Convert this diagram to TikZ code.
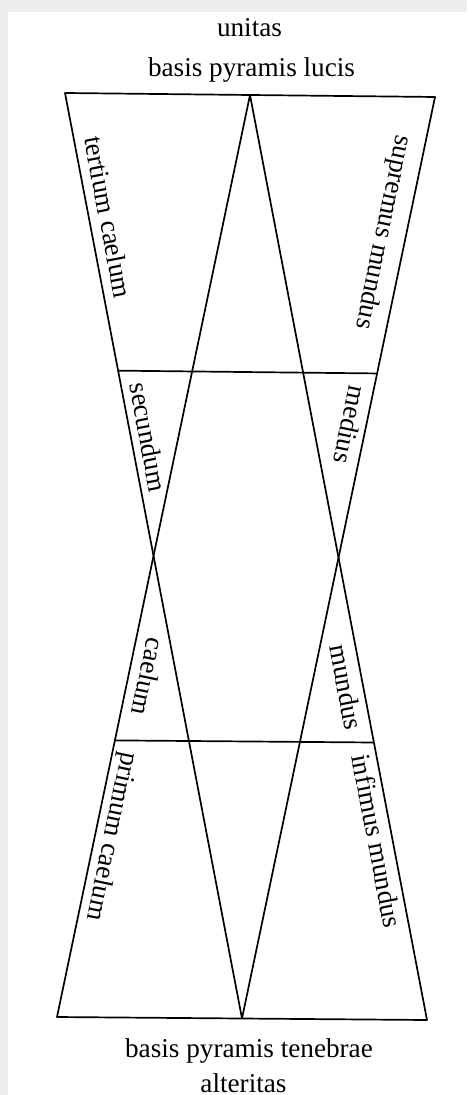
\documentclass[tikz,border=0pt]{standalone}
\usepackage{fontspec}
\setmainfont{Liberation Serif}
\usepackage{tikz}
\usetikzlibrary{calc}
\definecolor{framegray}{HTML}{EEEEEE}
\tikzset{
  pyramidline/.style={draw=black, line width=0.85pt, line join=round},
  sidelabel/.style={
    anchor=mid,
    inner sep=0pt,
    font=\fontsize{13.6}{16}\selectfont
  },
  baselabel/.style={
    anchor=base,
    inner sep=0pt,
    font=\fontsize{13.6}{16}\selectfont
  }
}

\begin{document}
\begin{tikzpicture}[x=0.5pt, y=-0.5pt]
\fill[framegray] (0,0) rectangle (467,1095);
\fill[white] (8,12) rectangle (467,1095);
\useasboundingbox (0,0) rectangle (467,1095);

% corners of the two pyramids
\coordinate (tl) at (65,93);
\coordinate (tr) at (435,97);
\coordinate (ta) at ($(tl)!0.5!(tr)$);
\coordinate (bl) at (57,1017);
\coordinate (br) at (427,1020);
\coordinate (ba) at ($(bl)!0.5!(br)$);
\coordinate (upl) at ($(tl)!0.3!(ba)$);
\coordinate (upr) at ($(tr)!0.3!(ba)$);
\coordinate (lowl) at ($(bl)!0.3!(ta)$);
\coordinate (lowr) at ($(br)!0.3!(ta)$);

\draw[pyramidline] (tl) -- (tr) -- (ba) -- cycle;
\draw[pyramidline] (bl) -- (br) -- (ta) -- cycle;
\draw[pyramidline] (upl) -- (upr);
\draw[pyramidline] (lowl) -- (lowr);

\node[baselabel] (unitas) at (249.5,37) {unitas};
\node[baselabel] (lucis) at (251.5,77) {basis pyramis lucis};
\node[baselabel] (tenebrae) at (249,1057) {basis pyramis tenebrae};
\node[baselabel] (alteritas) at (243.5,1092) {alteritas};

\node[sidelabel, rotate=-79.2] (tertium) at (104,218) {tertium caelum};
\node[sidelabel, rotate=-101.9] (supremus) at (381,232) {supremus mundus};
\node[sidelabel, rotate=-79.2] (secundum) at (144,438) {secundum};
\node[sidelabel, rotate=-101.9] (medius) at (346,424) {medius};
\node[sidelabel, rotate=-101.8] (caelum) at (144,676) {caelum};
\node[sidelabel, rotate=-79.2] (mundus) at (341.7,688) {mundus};
\node[sidelabel, rotate=-101.8] (primum) at (109,836) {primum caelum};
\node[sidelabel, rotate=-79.2] (infimus) at (372.5,842) {infimus mundus};
\end{tikzpicture}
\end{document}
